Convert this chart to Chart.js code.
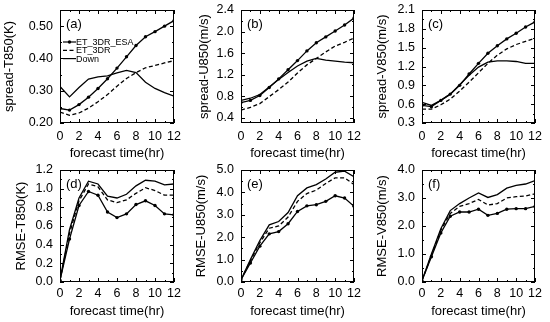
<!DOCTYPE html>
<html>
<head>
<meta charset="utf-8">
<script src="https://cdn.jsdelivr.net/npm/chart.js@4.4.0/dist/chart.umd.min.js"></script>
<style>
  body { margin: 0; background: #fff; width: 550px; height: 322px; position: relative; overflow: hidden; }
  .panel { position: absolute; }
</style>
</head>
<body>
<div class="panel" style="left:0;top:0;width:183px;height:161px"><canvas id="c-a"></canvas></div>
<div class="panel" style="left:183px;top:0;width:183px;height:161px"><canvas id="c-b"></canvas></div>
<div class="panel" style="left:366px;top:0;width:184px;height:161px"><canvas id="c-c"></canvas></div>
<div class="panel" style="left:0;top:161px;width:183px;height:161px"><canvas id="c-d"></canvas></div>
<div class="panel" style="left:183px;top:161px;width:183px;height:161px"><canvas id="c-e"></canvas></div>
<div class="panel" style="left:366px;top:161px;width:184px;height:161px"><canvas id="c-f"></canvas></div>
<script>
const hours = [0, 1, 2, 3, 4, 5, 6, 7, 8, 9, 10, 11, 12];
const hourTicks = [0, 2, 4, 6, 8, 10, 12];
const seriesNames = ['ET_3DR_ESA', 'ET_3DR', 'Down'];

// (a) spread T850
const spreadT_esa  = [0.245, 0.240, 0.257, 0.280, 0.307, 0.337, 0.370, 0.405, 0.440, 0.467, 0.483, 0.500, 0.517];
const spreadT_3dr  = [0.234, 0.224, 0.231, 0.246, 0.266, 0.288, 0.314, 0.338, 0.356, 0.371, 0.378, 0.386, 0.393];
const spreadT_down = [0.313, 0.281, 0.310, 0.336, 0.343, 0.346, 0.355, 0.363, 0.356, 0.326, 0.307, 0.294, 0.283];
const spreadT_ticks = [0.20, 0.30, 0.40, 0.50];
const spreadT_labels = ['0.20', '0.30', '0.40', '0.50'];

// (b) spread U850
const spreadU_esa  = [0.68, 0.72, 0.81, 0.96, 1.12, 1.29, 1.46, 1.64, 1.79, 1.90, 2.01, 2.12, 2.25];
const spreadU_3dr  = [0.54, 0.59, 0.66, 0.79, 0.92, 1.06, 1.23, 1.38, 1.50, 1.62, 1.73, 1.80, 1.88];
const spreadU_down = [0.72, 0.76, 0.83, 0.97, 1.11, 1.24, 1.36, 1.45, 1.50, 1.47, 1.45, 1.43, 1.42];
const spreadU_ticks = [0.4, 0.8, 1.2, 1.6, 2.0, 2.4];
const spreadU_labels = ['0.4', '0.8', '1.2', '1.6', '2.0', '2.4'];

// (c) spread V850
const spreadV_esa  = [0.58, 0.56, 0.66, 0.76, 0.90, 1.08, 1.25, 1.41, 1.53, 1.64, 1.73, 1.83, 1.91];
const spreadV_3dr  = [0.52, 0.52, 0.59, 0.68, 0.81, 0.95, 1.10, 1.25, 1.38, 1.48, 1.55, 1.60, 1.65];
const spreadV_down = [0.63, 0.58, 0.66, 0.76, 0.91, 1.06, 1.19, 1.27, 1.29, 1.29, 1.28, 1.25, 1.25];
const spreadV_ticks = [0.3, 0.6, 0.9, 1.2, 1.5, 1.8, 2.1];
const spreadV_labels = ['0.3', '0.6', '0.9', '1.2', '1.5', '1.8', '2.1'];

// (d) RMSE T850
const rmseT_esa  = [0.02, 0.46, 0.82, 0.97, 0.93, 0.75, 0.69, 0.73, 0.83, 0.87, 0.82, 0.73, 0.72];
const rmseT_3dr  = [0.02, 0.52, 0.87, 1.05, 1.02, 0.88, 0.85, 0.88, 0.95, 1.01, 0.98, 0.93, 0.93];
const rmseT_down = [0.02, 0.56, 0.90, 1.08, 1.05, 0.92, 0.90, 0.94, 1.03, 1.09, 1.08, 1.04, 1.05];
const rmseT_ticks = [0.0, 0.2, 0.4, 0.6, 0.8, 1.0, 1.2];
const rmseT_labels = ['0.0', '0.2', '0.4', '0.6', '0.8', '1.0', '1.2'];

// (e) RMSE U850
const rmseU_esa  = [0.10, 0.85, 1.60, 2.15, 2.25, 2.60, 3.15, 3.40, 3.45, 3.60, 3.85, 3.75, 3.38];
const rmseU_3dr  = [0.10, 0.95, 1.75, 2.40, 2.50, 2.90, 3.60, 3.95, 4.10, 4.40, 4.65, 4.65, 4.35];
const rmseU_down = [0.10, 1.00, 1.85, 2.55, 2.70, 3.10, 3.85, 4.20, 4.35, 4.60, 4.90, 4.95, 4.70];
const rmseU_ticks = [0.0, 1.0, 2.0, 3.0, 4.0, 5.0];
const rmseU_labels = ['0.0', '1.0', '2.0', '3.0', '4.0', '5.0'];

// (f) RMSE V850
const rmseV_esa  = [0.05, 0.90, 1.75, 2.35, 2.50, 2.50, 2.60, 2.38, 2.45, 2.60, 2.62, 2.62, 2.70];
const rmseV_3dr  = [0.05, 0.95, 1.85, 2.45, 2.70, 2.80, 2.95, 2.75, 2.80, 3.00, 3.05, 3.07, 3.15];
const rmseV_down = [0.05, 1.00, 1.90, 2.55, 2.80, 3.00, 3.18, 3.02, 3.12, 3.35, 3.45, 3.50, 3.62];
const rmseV_ticks = [0.0, 1.0, 2.0, 3.0, 4.0];
const rmseV_labels = ['0.0', '1.0', '2.0', '3.0', '4.0'];

const FONT = '"Liberation Sans", Arial, Helvetica, sans-serif';

// frame + inward ticks on all four sides, panel tag and legend
const framePlugin = {
  id: 'frame',
  afterDatasetsDraw(chart, args, opts) {
    const { ctx, chartArea: a, scales: { x, y } } = chart;
    ctx.save();
    ctx.strokeStyle = '#000';
    ctx.lineWidth = 1;
    ctx.setLineDash([]);
    ctx.strokeRect(Math.round(a.left) + 0.5, Math.round(a.top) + 0.5, Math.round(a.width) - 1, Math.round(a.height) - 1);

    const tick = (x1, y1, x2, y2) => { ctx.beginPath(); ctx.moveTo(x1, y1); ctx.lineTo(x2, y2); ctx.stroke(); };
    hours.forEach(h => {
      const px = Math.round(x.getPixelForValue(h)) + 0.5;
      const len = hourTicks.includes(h) ? 4 : 2;
      tick(px, a.bottom, px, a.bottom - len);
      tick(px, a.top, px, a.top + len);
    });
    const yt = opts.yTicks;
    const step = yt[1] - yt[0];
    yt.forEach(v => {
      const py = Math.round(y.getPixelForValue(v)) + 0.5;
      tick(a.left, py, a.left + 4, py);
      tick(a.right, py, a.right - 4, py);
      const m = v + step / 2;
      if (m < y.max) {
        const pm = Math.round(y.getPixelForValue(m)) + 0.5;
        tick(a.left, pm, a.left + 2, pm);
        tick(a.right, pm, a.right - 2, pm);
      }
    });

    ctx.fillStyle = '#000';
    ctx.font = '13px ' + FONT;
    ctx.textBaseline = 'middle';
    ctx.fillText(opts.tag, a.left + 6, a.top + 14);

    if (opts.legend) {
      ctx.font = '9px ' + FONT;
      chart.data.datasets.forEach((ds, i) => {
        const ly = a.top + 32 + i * 8.3;
        const lx = a.left + 3;
        ctx.lineWidth = 1.2;
        ctx.setLineDash(ds.borderDash || []);
        tick(lx, ly, lx + 13, ly);
        ctx.setLineDash([]);
        if (ds.pointRadius) {
          ctx.beginPath();
          ctx.arc(lx + 6.5, ly, 1.7, 0, Math.PI * 2);
          ctx.fill();
        }
        ctx.fillText(ds.label, lx + 13, ly + 0.5);
      });
    }
    ctx.restore();
  }
};

function makePanel(id, tag, yTitle, series, yTicks, yLabels, yMin, yMax, geo) {
  const styles = [
    { pointRadius: 1.7, borderDash: [] },
    { pointRadius: 0, borderDash: [4, 2.5] },
    { pointRadius: 0, borderDash: [] }
  ];
  const datasets = series.map((vals, i) => ({
    label: seriesNames[i],
    data: hours.map((h, j) => ({ x: h, y: vals[j] })),
    borderColor: '#000',
    backgroundColor: '#000',
    borderWidth: 1.3,
    pointRadius: styles[i].pointRadius,
    pointBorderWidth: 0,
    borderDash: styles[i].borderDash,
    tension: 0
  }));

  new Chart(document.getElementById(id), {
    type: 'line',
    data: { datasets },
    options: {
      responsive: true,
      maintainAspectRatio: false,
      animation: false,
      layout: { padding: { top: geo.top, right: geo.right, left: 0, bottom: 0 } },
      plugins: {
        legend: { display: false },
        tooltip: { enabled: false },
        frame: { tag, legend: geo.legend, yTicks }
      },
      scales: {
        x: {
          type: 'linear', min: 0, max: 12,
          afterBuildTicks: s => { s.ticks = hourTicks.map(v => ({ value: v })); },
          afterFit: s => { s.height = geo.xh; s.paddingLeft = 0; s.paddingRight = 0; },
          grid: { display: false, drawTicks: false },
          border: { display: false },
          ticks: { color: '#000', font: { family: FONT, size: 12.5 }, padding: geo.xpad, maxRotation: 0, autoSkip: false },
          title: { display: true, text: 'forecast time(hr)', color: '#000', font: { family: FONT, size: 13 }, padding: { top: 0, bottom: geo.tpad } }
        },
        y: {
          type: 'linear', min: yMin, max: yMax,
          afterBuildTicks: s => { s.ticks = yTicks.map(v => ({ value: v })); },
          afterFit: s => { s.width = geo.yw; s.paddingTop = 0; s.paddingBottom = 0; },
          grid: { display: false, drawTicks: false },
          border: { display: false },
          ticks: { color: '#000', font: { family: FONT, size: 12.5 }, padding: 7, autoSkip: false, callback: (v, i) => yLabels[i] },
          title: { display: true, text: yTitle, color: '#000', font: { family: FONT, size: 13 }, padding: { top: geo.ytpad, bottom: 0 } }
        }
      }
    },
    plugins: [framePlugin]
  });
}

makePanel('c-a', '(a)', 'spread-T850(K)', [spreadT_esa, spreadT_3dr, spreadT_down], spreadT_ticks, spreadT_labels, 0.2, 0.55,
  { top: 10, right: 9, yw: 60, xh: 38, xpad: 6, tpad: 0, ytpad: 2, legend: true });
makePanel('c-b', '(b)', 'spread-U850(m/s)', [spreadU_esa, spreadU_3dr, spreadU_down], spreadU_ticks, spreadU_labels, 0.3, 2.4,
  { top: 10, right: 12, yw: 58, xh: 38, xpad: 6, tpad: 0, ytpad: 14, legend: false });
makePanel('c-c', '(c)', 'spread-V850(m/s)', [spreadV_esa, spreadV_3dr, spreadV_down], spreadV_ticks, spreadV_labels, 0.3, 2.1,
  { top: 10, right: 15, yw: 56, xh: 38, xpad: 6, tpad: 0, ytpad: 9, legend: false });
makePanel('c-d', '(d)', 'RMSE-T850(K)', [rmseT_esa, rmseT_3dr, rmseT_down], rmseT_ticks, rmseT_labels, 0, 1.2,
  { top: 9, right: 9, yw: 60, xh: 40, xpad: 4, tpad: 2.5, ytpad: 14, legend: false });
makePanel('c-e', '(e)', 'RMSE-U850(m/s)', [rmseU_esa, rmseU_3dr, rmseU_down], rmseU_ticks, rmseU_labels, 0, 5,
  { top: 9, right: 12, yw: 58, xh: 40, xpad: 4, tpad: 2.5, ytpad: 11, legend: false });
makePanel('c-f', '(f)', 'RMSE-V850(m/s)', [rmseV_esa, rmseV_3dr, rmseV_down], rmseV_ticks, rmseV_labels, 0, 4,
  { top: 9, right: 15, yw: 56, xh: 40, xpad: 4, tpad: 2.5, ytpad: 9, legend: false });
</script>
</body>
</html>
